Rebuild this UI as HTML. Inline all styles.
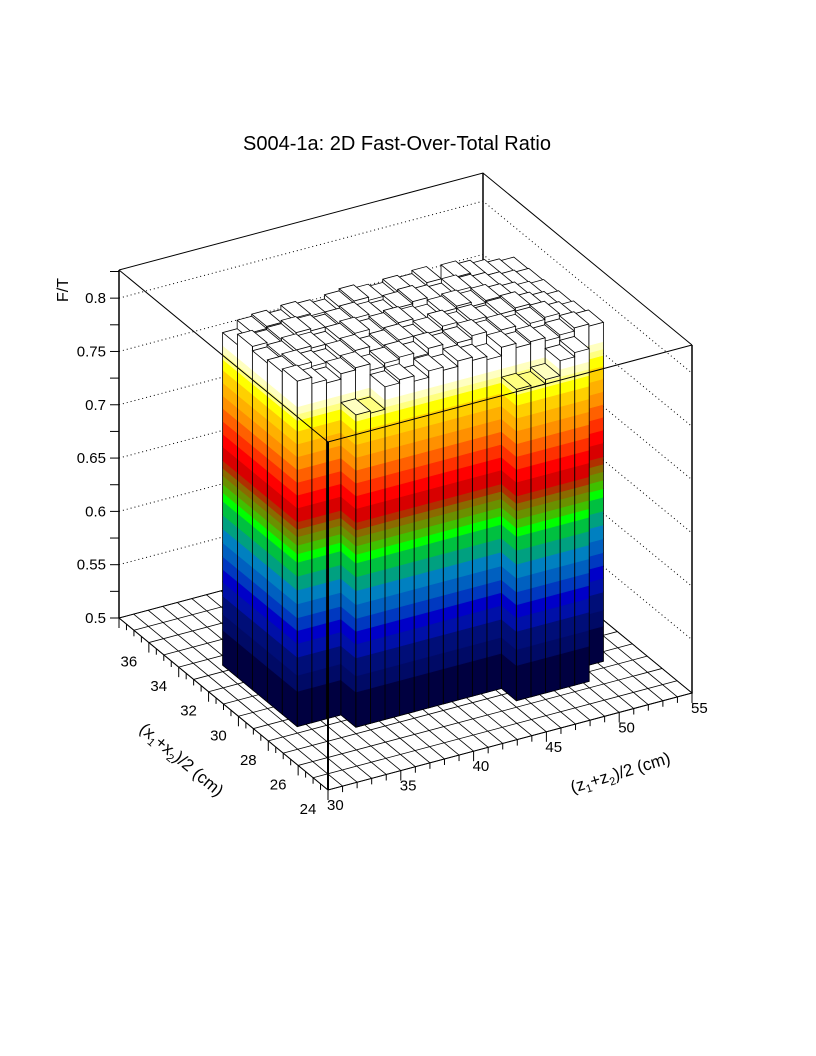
<!DOCTYPE html>
<html><head><meta charset="utf-8"><style>
html,body{margin:0;padding:0;background:#fff;}
svg{display:block;font-family:"Liberation Sans",Arial,sans-serif;}
</style></head><body>
<svg id="chart" width="816" height="1056" viewBox="0 0 816 1056" xmlns="http://www.w3.org/2000/svg">
<text x="397" y="150" font-size="20" text-anchor="middle" fill="#000">S004-1a: 2D Fast-Over-Total Ratio</text>
<g id="floor"></g>
<g id="walls"></g>
<g id="bars"></g>
<g id="front"></g>
<g id="axes"></g>
<text x="0" y="0" font-size="16" text-anchor="middle" transform="translate(68,290) rotate(-90)">F/T</text>
<text x="0" y="0" font-size="17" text-anchor="middle" transform="translate(178,764) rotate(40)">(x<tspan font-size="11" dy="4">1</tspan><tspan dy="-4">+x</tspan><tspan font-size="11" dy="4">2</tspan><tspan dy="-4">)/2 (cm)</tspan></text>
<text x="0" y="0" font-size="17" text-anchor="middle" transform="translate(622,778) rotate(-17)">(z<tspan font-size="11" dy="4">1</tspan><tspan dy="-4">+z</tspan><tspan font-size="11" dy="4">2</tspan><tspan dy="-4">)/2 (cm)</tspan></text>
</svg>
<script>
// ---- data ----
const xRange = [24, 38];
const zRange = [30, 55];
const valRange = [0.5, 0.8264];
const xBinStart = 26.4;
const zBinStart = 32.4;
const yTicks = [0.5, 0.55, 0.6, 0.65, 0.7, 0.75, 0.8];
const yTickLabels = ["0.5", "0.55", "0.6", "0.65", "0.7", "0.75", "0.8"];
const xTickLabels = [24, 26, 28, 30, 32, 34, 36];
const zTickLabels = [30, 35, 40, 45, 50, 55];
const bandEdges = [0.5,0.533,0.548,0.565,0.578,0.590,0.602,0.615,0.628,0.641,0.654,0.662,0.670,0.678,0.685,0.692,0.705,0.717,0.729,0.741,0.753,0.765,0.777,0.787,0.793,0.800];
const bandColors = ["#000040","#000a66","#000e78","#0010a8","#0000c8","#0038c0","#0060c0","#0080c0","#00a080","#00c040","#00ff00","#40c000","#6a9000","#8a6a00","#b03000","#d80000","#ff0000","#ff3000","#ff6000","#ff9000","#ffb000","#ffd000","#ffff00","#ffff80","#ffffc0","#ffffff"];
const N = null;
const row0 = [N,N,N,N,N,N,N,N,N,N,N,N,N,0.792,0.790,0.794,0.808,0.812,N,N];
const row1 = [N,N,N,0.793,0.791,0.812,0.815,0.810,0.816,0.813,0.818,0.815,0.812,0.820,0.816,0.818,0.815,0.817,0.820,0.818];
const row2 = [0.824,0.818,0.815,0.820,0.822,0.816,0.819,0.821,0.817,0.822,0.818,0.820,0.823,0.819,0.821,0.817,0.820,0.822,0.818,0.815];
const row3 = [0.821,0.823,0.819,0.817,0.821,0.823,0.818,0.820,0.822,0.818,0.821,0.824,0.819,0.822,0.818,0.821,0.823,0.819,0.816,0.813];
const row4 = [0.818,0.820,0.823,0.821,0.818,0.822,0.824,0.819,0.821,0.823,0.820,0.818,0.822,0.824,0.820,0.822,0.819,0.817,0.814,0.812];
const row5 = [0.822,0.819,0.821,0.824,0.822,0.819,0.821,0.823,0.820,0.818,0.822,0.824,0.821,0.819,0.823,0.820,0.818,0.815,0.813,0.811];
const row6 = [0.812,0.820,0.822,0.819,0.823,0.821,0.818,0.822,0.824,0.821,0.819,0.822,0.820,0.823,0.798,0.821,0.818,0.815,0.812,0.810];
const heights = [row0,row1,row2,row3,row4,row5,row6];

// ---- projection ----
const O = [328, 790];
const UX = [-209/14, -172/14];
const UZ = [364/25, -97/25];
const HS = 348 / (valRange[1]-valRange[0]);
function P(x, z, h){
  const a = x - xRange[0], b = z - zRange[0];
  return [O[0] + a*UX[0] + b*UZ[0], O[1] + a*UX[1] + b*UZ[1] - (h - valRange[0])*HS];
}
const NS = "http://www.w3.org/2000/svg";
function el(tag, attrs, parent){
  const e = document.createElementNS(NS, tag);
  for (const k in attrs) e.setAttribute(k, attrs[k]);
  parent.appendChild(e); return e;
}
function pts(list){ return list.map(p => p[0].toFixed(2)+","+p[1].toFixed(2)).join(" "); }
function line(p, q, parent, extra){
  return el("line", Object.assign({x1:p[0],y1:p[1],x2:q[0],y2:q[1],stroke:"#000","stroke-width":1}, extra||{}), parent);
}
const lo = valRange[0], hi = valRange[1];

// floor
const floor = document.getElementById("floor");
const fl = el("polygon", {points: pts([P(24,30,lo),P(38,30,lo),P(38,55,lo),P(24,55,lo)]), fill:"#fff", stroke:"#000"}, floor);


for (let x = xRange[0]; x <= xRange[1]; x++) {
  const g = line(P(x,30,lo), P(x,55,lo), floor, {"stroke-width":0.8});
  
  
}
for (let z = zRange[0]; z <= zRange[1]; z++) {
  const g = line(P(24,z,lo), P(38,z,lo), floor, {"stroke-width":0.8});
  
  
}

// back walls
const walls = document.getElementById("walls");
yTicks.forEach(v => {
  if (v === lo) return;
  const d = el("polyline", {points: pts([P(38,30,v),P(38,55,v),P(24,55,v)]), fill:"none", stroke:"#000","stroke-width":1,"stroke-dasharray":"1,3"}, walls);
  
  
});
[[38,55],[24,55]].forEach(c => {
  const v = line(P(c[0],c[1],lo), P(c[0],c[1],hi), walls, {"stroke-width":1.5});
  
  
});
const topBack = el("polyline", {points: pts([P(38,30,hi),P(38,55,hi),P(24,55,hi)]), fill:"none", stroke:"#000","stroke-width":1}, walls);



// bars
const bars = document.getElementById("bars");
function bandIndex(v){
  for (let k = 0; k < bandEdges.length-1; k++) if (v < bandEdges[k+1]) return k;
  return bandColors.length-1;
}
const cells = [];
heights.forEach((row, i) => row.forEach((v, j) => { if (v !== null) cells.push({i, j, v}); }));
cells.sort((A, B) => (B.i + B.j) - (A.i + A.j) || B.i - A.i);
cells.forEach(c => {
  const x0 = xBinStart + c.i, x1 = x0 + 1, z0 = zBinStart + c.j, z1 = z0 + 1;
  const v = Math.min(c.v, hi);
  const g = el("g", {}, bars);
  
  
  for (let k = 0; k < bandColors.length; k++) {
    const h0 = bandEdges[k], h1 = Math.min(bandEdges[k+1] !== undefined ? bandEdges[k+1] : 1, v);
    if (h0 >= v) break;
    const col = bandColors[k];
    el("polygon", {points: pts([P(x0,z0,h0),P(x0,z1,h0),P(x0,z1,h1),P(x0,z0,h1)]), fill:col, stroke:col, "stroke-width":0.6}, g);
    el("polygon", {points: pts([P(x0,z0,h0),P(x1,z0,h0),P(x1,z0,h1),P(x0,z0,h1)]), fill:col, stroke:col, "stroke-width":0.6}, g);
  }
  const topCol = bandColors[bandIndex(v)];
  el("polygon", {points: pts([P(x0,z0,v),P(x1,z0,v),P(x1,z1,v),P(x0,z1,v)]), fill:topCol, stroke:"#000","stroke-width":0.8}, g);
  el("polyline", {points: pts([P(x1,z0,v),P(x1,z0,lo),P(x0,z0,lo),P(x0,z1,lo),P(x0,z1,v)]), fill:"none", stroke:"#000","stroke-width":0.8}, g);
  line(P(x0,z0,lo), P(x0,z0,v), g, {"stroke-width":1});
});

// front frame lines
const front = document.getElementById("front");
const fv = line(P(24,30,lo), P(24,30,hi), front, {"stroke-width":2});


const ft = el("polyline", {points: pts([P(38,30,hi),P(24,30,hi),P(24,55,hi)]), fill:"none", stroke:"#000","stroke-width":1}, front);



// axes
const axes = document.getElementById("axes");
const ya = line(P(38,30,lo), P(38,30,hi), axes, {"stroke-width":1.5});


for (let v = lo; v <= hi + 1e-9; v += 0.025) {
  const p = P(38,30,v);
  line([p[0]-9,p[1]], p, axes);
}
yTicks.forEach((v, k) => {
  const p = P(38,30,v);
  const t = el("text", {x: p[0]-13, y: p[1]+5, "font-size":15, "text-anchor":"end"}, axes);
  t.textContent = yTickLabels[k];
  
  
});
for (let x = xRange[0]; x <= xRange[1] + 1e-9; x += 0.5) {
  const p = P(x,30,lo);
  const major = Math.abs(x % 2) < 1e-9;
  line(p, [p[0], p[1] + (major ? 10 : 6)], axes);
}
xTickLabels.forEach(x => {
  const p = P(x,30,lo);
  const t = el("text", {x: p[0]-20, y: p[1]+24, "font-size":15, "text-anchor":"middle"}, axes);
  t.textContent = String(x);
  
  
});
for (let z = zRange[0]; z <= zRange[1]; z++) {
  const p = P(24,z,lo);
  const major = z % 5 === 0;
  line(p, [p[0], p[1] + (major ? 10 : 6)], axes);
}
zTickLabels.forEach(z => {
  const p = P(24,z,lo);
  const t = el("text", {x: p[0]-1, y: p[1]+20, "font-size":15, "text-anchor":"start"}, axes);
  t.textContent = String(z);
  
  
});
</script>
</body></html>
